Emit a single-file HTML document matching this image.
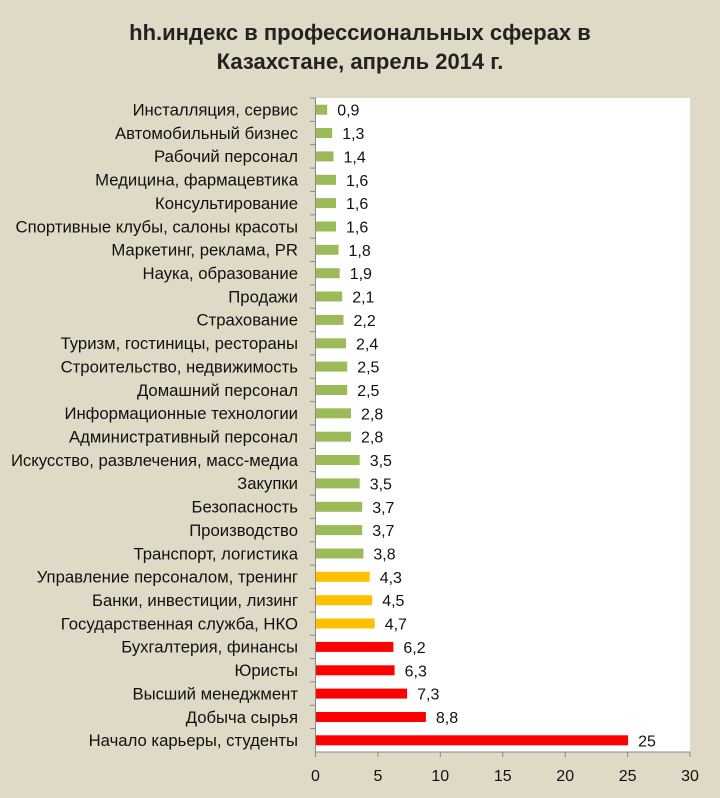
<!DOCTYPE html><html><head><meta charset="utf-8"><style>body{margin:0;background:#dedac6;}svg{display:block}</style></head><body>
<svg width="720" height="798" xmlns="http://www.w3.org/2000/svg" font-family="Liberation Sans, DejaVu Sans, sans-serif">
<rect width="720" height="798" fill="#dedac6"/>
<text x="360" y="40" text-anchor="middle" font-size="22" font-weight="bold" fill="#222">hh.индекс в профессиональных сферах в</text>
<text x="360" y="69" text-anchor="middle" font-size="22" font-weight="bold" fill="#222">Казахстане,  апрель 2014 г.</text>
<rect x="315.5" y="98" width="374.5" height="654" fill="#fff"/>
<g fill="#9bbb59">
<rect x="316" y="104.7" width="11.2" height="10"/>
<rect x="316" y="128.0" width="16.2" height="10"/>
<rect x="316" y="151.4" width="17.5" height="10"/>
<rect x="316" y="174.8" width="20.0" height="10"/>
<rect x="316" y="198.1" width="20.0" height="10"/>
<rect x="316" y="221.5" width="20.0" height="10"/>
<rect x="316" y="244.8" width="22.5" height="10"/>
<rect x="316" y="268.2" width="23.7" height="10"/>
<rect x="316" y="291.5" width="26.2" height="10"/>
<rect x="316" y="314.9" width="27.5" height="10"/>
<rect x="316" y="338.3" width="30.0" height="10"/>
<rect x="316" y="361.6" width="31.2" height="10"/>
<rect x="316" y="385.0" width="31.2" height="10"/>
<rect x="316" y="408.3" width="35.0" height="10"/>
<rect x="316" y="431.7" width="35.0" height="10"/>
<rect x="316" y="455.0" width="43.7" height="10"/>
<rect x="316" y="478.4" width="43.7" height="10"/>
<rect x="316" y="501.8" width="46.2" height="10"/>
<rect x="316" y="525.1" width="46.2" height="10"/>
<rect x="316" y="548.5" width="47.4" height="10"/>
</g>
<g fill="#ffc000">
<rect x="316" y="571.8" width="53.7" height="10"/>
<rect x="316" y="595.2" width="56.2" height="10"/>
<rect x="316" y="618.5" width="58.7" height="10"/>
</g>
<g fill="#ff0000">
<rect x="316" y="641.9" width="77.4" height="10"/>
<rect x="316" y="665.3" width="78.6" height="10"/>
<rect x="316" y="688.6" width="91.1" height="10"/>
<rect x="316" y="712.0" width="109.9" height="10"/>
<rect x="316" y="735.3" width="312.1" height="10"/>
</g>
<g font-size="16.7" fill="#111" text-anchor="end">
<text x="298" y="115.5">Инсталляция, сервис</text>
<text x="298" y="138.8">Автомобильный бизнес</text>
<text x="298" y="162.2">Рабочий персонал</text>
<text x="298" y="185.6">Медицина, фармацевтика</text>
<text x="298" y="208.9">Консультирование</text>
<text x="298" y="232.3">Спортивные клубы, салоны красоты</text>
<text x="298" y="255.6">Маркетинг, реклама, PR</text>
<text x="298" y="279.0">Наука, образование</text>
<text x="298" y="302.3">Продажи</text>
<text x="298" y="325.7">Страхование</text>
<text x="298" y="349.1">Туризм, гостиницы, рестораны</text>
<text x="298" y="372.4">Строительство, недвижимость</text>
<text x="298" y="395.8">Домашний персонал</text>
<text x="298" y="419.1">Информационные технологии</text>
<text x="298" y="442.5">Административный персонал</text>
<text x="298" y="465.8">Искусство, развлечения, масс-медиа</text>
<text x="298" y="489.2">Закупки</text>
<text x="298" y="512.6">Безопасность</text>
<text x="298" y="535.9">Производство</text>
<text x="298" y="559.3">Транспорт, логистика</text>
<text x="298" y="582.6">Управление персоналом, тренинг</text>
<text x="298" y="606.0">Банки, инвестиции,  лизинг</text>
<text x="298" y="629.3">Государственная служба, НКО</text>
<text x="298" y="652.7">Бухгалтерия, финансы</text>
<text x="298" y="676.1">Юристы</text>
<text x="298" y="699.4">Высший менеджмент</text>
<text x="298" y="722.8">Добыча сырья</text>
<text x="298" y="746.1">Начало карьеры, студенты</text>
</g>
<g font-size="16" fill="#111">
<text x="337.2" y="115.7">0,9</text>
<text x="342.2" y="139.0">1,3</text>
<text x="343.5" y="162.4">1,4</text>
<text x="346.0" y="185.8">1,6</text>
<text x="346.0" y="209.1">1,6</text>
<text x="346.0" y="232.5">1,6</text>
<text x="348.5" y="255.8">1,8</text>
<text x="349.7" y="279.2">1,9</text>
<text x="352.2" y="302.5">2,1</text>
<text x="353.5" y="325.9">2,2</text>
<text x="356.0" y="349.3">2,4</text>
<text x="357.2" y="372.6">2,5</text>
<text x="357.2" y="396.0">2,5</text>
<text x="361.0" y="419.3">2,8</text>
<text x="361.0" y="442.7">2,8</text>
<text x="369.7" y="466.0">3,5</text>
<text x="369.7" y="489.4">3,5</text>
<text x="372.2" y="512.8">3,7</text>
<text x="372.2" y="536.1">3,7</text>
<text x="373.4" y="559.5">3,8</text>
<text x="379.7" y="582.8">4,3</text>
<text x="382.2" y="606.2">4,5</text>
<text x="384.7" y="629.5">4,7</text>
<text x="403.4" y="652.9">6,2</text>
<text x="404.6" y="676.3">6,3</text>
<text x="417.1" y="699.6">7,3</text>
<text x="435.9" y="723.0">8,8</text>
<text x="638.1" y="746.3">25</text>
</g>
<g stroke="#888">
<line x1="315.5" y1="98" x2="315.5" y2="752"/>
<line x1="315.5" y1="752" x2="690" y2="752"/>
<line x1="310" y1="98" x2="315.5" y2="98"/><line x1="310" y1="121.4" x2="315.5" y2="121.4"/><line x1="310" y1="144.7" x2="315.5" y2="144.7"/><line x1="310" y1="168.1" x2="315.5" y2="168.1"/><line x1="310" y1="191.4" x2="315.5" y2="191.4"/><line x1="310" y1="214.8" x2="315.5" y2="214.8"/><line x1="310" y1="238.1" x2="315.5" y2="238.1"/><line x1="310" y1="261.5" x2="315.5" y2="261.5"/><line x1="310" y1="284.9" x2="315.5" y2="284.9"/><line x1="310" y1="308.2" x2="315.5" y2="308.2"/><line x1="310" y1="331.6" x2="315.5" y2="331.6"/><line x1="310" y1="354.9" x2="315.5" y2="354.9"/><line x1="310" y1="378.3" x2="315.5" y2="378.3"/><line x1="310" y1="401.6" x2="315.5" y2="401.6"/><line x1="310" y1="425" x2="315.5" y2="425"/><line x1="310" y1="448.4" x2="315.5" y2="448.4"/><line x1="310" y1="471.7" x2="315.5" y2="471.7"/><line x1="310" y1="495.1" x2="315.5" y2="495.1"/><line x1="310" y1="518.4" x2="315.5" y2="518.4"/><line x1="310" y1="541.8" x2="315.5" y2="541.8"/><line x1="310" y1="565.1" x2="315.5" y2="565.1"/><line x1="310" y1="588.5" x2="315.5" y2="588.5"/><line x1="310" y1="611.9" x2="315.5" y2="611.9"/><line x1="310" y1="635.2" x2="315.5" y2="635.2"/><line x1="310" y1="658.6" x2="315.5" y2="658.6"/><line x1="310" y1="681.9" x2="315.5" y2="681.9"/><line x1="310" y1="705.3" x2="315.5" y2="705.3"/><line x1="310" y1="728.6" x2="315.5" y2="728.6"/>
<line x1="315.5" y1="752" x2="315.5" y2="757"/><line x1="377.9" y1="752" x2="377.9" y2="757"/><line x1="440.3" y1="752" x2="440.3" y2="757"/><line x1="502.8" y1="752" x2="502.8" y2="757"/><line x1="565.2" y1="752" x2="565.2" y2="757"/><line x1="627.6" y1="752" x2="627.6" y2="757"/><line x1="690" y1="752" x2="690" y2="757"/>
</g>
<g font-size="16" fill="#111" text-anchor="middle">
<text x="315.5" y="781">0</text><text x="377.9" y="781">5</text><text x="440.3" y="781">10</text><text x="502.8" y="781">15</text><text x="565.2" y="781">20</text><text x="627.6" y="781">25</text><text x="690" y="781">30</text>
</g>
</svg></body></html>
